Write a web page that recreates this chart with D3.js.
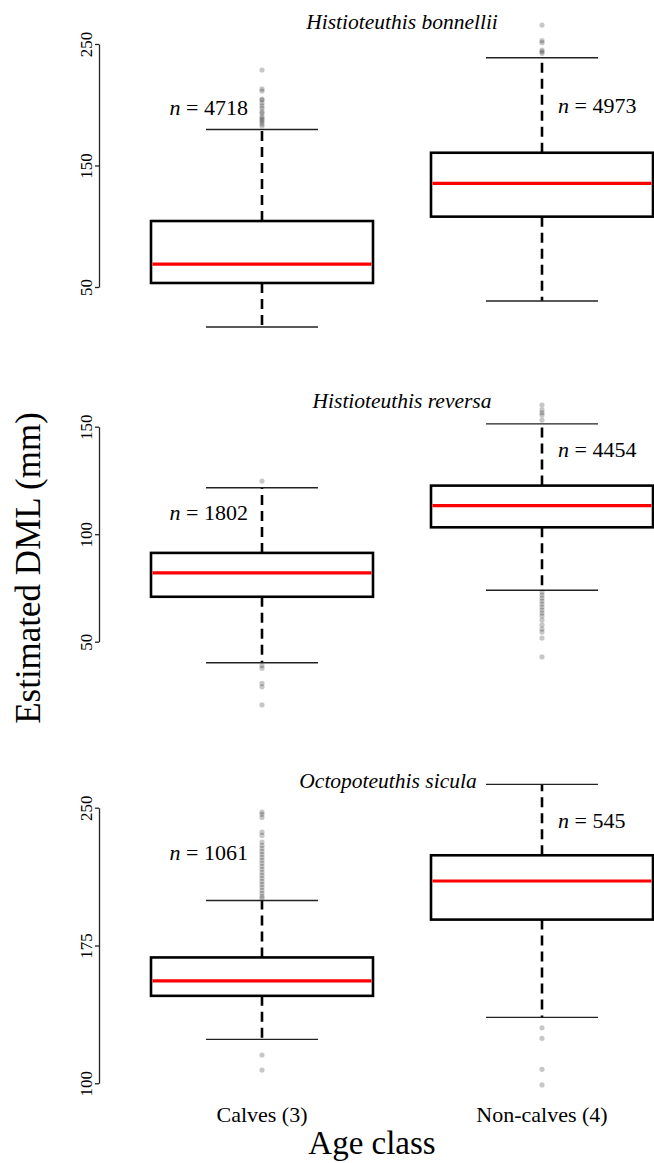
<!DOCTYPE html>
<html>
<head>
<meta charset="utf-8">
<script src="https://cdn.jsdelivr.net/npm/d3@7"></script>
<style>
  body { margin: 0; background: #fff; }
  text { font-family: "Liberation Serif", "Times New Roman", serif; fill: #000; }
</style>
</head>
<body>
<svg id="chart" width="654" height="1163"></svg>
<script>
"use strict";

// ---- data ----
var ageClasses = ["Calves (3)", "Non-calves (4)"];
var species = ["Histioteuthis bonnellii", "Histioteuthis reversa", "Octopoteuthis sicula"];
var yTicks = [[50, 150, 250], [50, 100, 150], [100, 175, 250]];
var sampleSizes = [[4718, 4973], [1802, 4454], [1061, 545]];

// [lower whisker, q1, median, q3, upper whisker] for calves / non-calves
var bonnelliiStats = [[17.1, 53.3, 68.9, 104.3, 179.6], [38.5, 107.9, 135.3, 160.5, 238.7]];
var reversaStats = [[40.2, 70.9, 82.0, 91.3, 121.6], [73.9, 103.2, 113.3, 122.6, 151.3]];
var siculaStats = [[123.9, 147.6, 155.8, 168.5, 199.5], [135.9, 189.1, 210.1, 224.1, 262.7]];

var bonnelliiOutliers = [
  [228.6, 213, 211.3, 204.7, 203.9, 201.4, 199, 197.1, 194.3, 193, 190.2, 188.8, 187.4, 186, 184.2, 182.5],
  [265.6, 252.7, 251.1, 245, 243.7, 242.3]
];
var reversaOutliers = [
  [124.7, 38.9, 37.7, 30.6, 29, 20.6],
  [160.1, 157.8, 156.5, 155.4, 153.1, 73.1, 71.7, 70.3, 68.9, 67.5, 66.1, 64.7, 63.3, 62, 60.1, 57.8, 55.9, 54.5, 51.7, 42.9]
];
var siculaOutliers = [
  [247.6, 246.4, 244.7, 236.7, 234.9, 231.3, 229.5, 227.9, 226.2, 224.6, 223, 221.4, 219.7, 218.1, 216.5,
   214.8, 213.2, 211.6, 209.9, 208.3, 206.7, 205, 203.4, 201.8, 200.7, 115.4, 107.2],
  [130.2, 124.5, 107.6, 99.1]
];

var panelStats = [bonnelliiStats, reversaStats, siculaStats];
var panelOutliers = [bonnelliiOutliers, reversaOutliers, siculaOutliers];

// ---- layout ----
var axisX = 99;
var panelRanges = [[287, 44], [641.7, 426.7], [1083.3, 807.7]];
var titleX = [402, 402, 388];
var titleY = [29, 408, 788];
var nLabelY = [[115, 113], [520, 457], [860, 828]];
var boxHalf = 111, capHalf = 56;

var svg = d3.select("#chart");

var x = d3.scalePoint()
  .domain(ageClasses)
  .range([262, 542]);

species.forEach(function(name, p) {
  var ticks = yTicks[p];
  var y = d3.scaleLinear()
    .domain([ticks[0], ticks[ticks.length - 1]])
    .range(panelRanges[p]);

  var g = svg.append("g").attr("class", "panel");

  // y axis
  var axis = g.append("g")
    .attr("transform", "translate(" + axisX + ",0)")
    .call(d3.axisLeft(y).tickValues(ticks).tickSize(4).tickSizeOuter(0).tickFormat(d3.format("d")));
  axis.select(".domain").attr("stroke", "#222").attr("stroke-width", 1.3);
  axis.selectAll(".tick line").attr("stroke", "#222").attr("stroke-width", 1.3);
  axis.selectAll(".tick text")
    .attr("transform", "rotate(-90)")
    .attr("x", 0)
    .attr("y", -7)
    .attr("dy", 0)
    .attr("text-anchor", "middle")
    .style("font-family", "'Liberation Serif', 'Times New Roman', serif")
    .style("font-size", "17px");

  ageClasses.forEach(function(cls, i) {
    var s = panelStats[p][i];
    var cx = x(cls);

    // whiskers (dashed)
    g.append("line")
      .attr("x1", cx).attr("x2", cx)
      .attr("y1", y(s[3])).attr("y2", y(s[4]))
      .attr("stroke", "#000").attr("stroke-width", 2.6)
      .attr("stroke-dasharray", "10,6");
    g.append("line")
      .attr("x1", cx).attr("x2", cx)
      .attr("y1", y(s[1])).attr("y2", y(s[0]))
      .attr("stroke", "#000").attr("stroke-width", 2.6)
      .attr("stroke-dasharray", "10,6");

    // caps
    [s[0], s[4]].forEach(function(v) {
      g.append("line")
        .attr("x1", cx - capHalf).attr("x2", cx + capHalf)
        .attr("y1", y(v)).attr("y2", y(v))
        .attr("stroke", "#222").attr("stroke-width", 1.4);
    });

    // box
    g.append("rect")
      .attr("x", cx - boxHalf)
      .attr("y", y(s[3]))
      .attr("width", boxHalf * 2)
      .attr("height", y(s[1]) - y(s[3]))
      .attr("fill", "#fff")
      .attr("stroke", "#000")
      .attr("stroke-width", 2.6);

    // median
    g.append("line")
      .attr("x1", cx - boxHalf + 1.5).attr("x2", cx + boxHalf - 1.5)
      .attr("y1", y(s[2])).attr("y2", y(s[2]))
      .attr("stroke", "#ff0000").attr("stroke-width", 3.2);

    // outliers
    g.selectAll(null)
      .data(panelOutliers[p][i])
      .enter().append("circle")
      .attr("cx", cx)
      .attr("cy", function(d) { return y(d); })
      .attr("r", 2.6)
      .attr("fill", "#000")
      .attr("fill-opacity", 0.22);

    // sample size labels
    var lab = g.append("text")
      .attr("x", i === 0 ? cx - 14 : cx + 16)
      .attr("y", nLabelY[p][i])
      .attr("text-anchor", i === 0 ? "end" : "start")
      .style("font-size", "22px");
    lab.append("tspan").style("font-style", "italic").text("n");
    lab.append("tspan").text(" = " + sampleSizes[p][i]);
  });

  g.append("text")
    .attr("x", titleX[p])
    .attr("y", titleY[p])
    .attr("text-anchor", "middle")
    .style("font-style", "italic")
    .style("font-size", "21.5px")
    .text(name);
});

// x category labels
svg.selectAll(".xlab")
  .data(ageClasses)
  .enter().append("text")
  .attr("class", "xlab")
  .attr("x", function(d) { return x(d); })
  .attr("y", 1122)
  .attr("text-anchor", "middle")
  .style("font-size", "22px")
  .text(function(d) { return d; });

svg.append("text")
  .attr("x", 372)
  .attr("y", 1154)
  .attr("text-anchor", "middle")
  .style("font-size", "33px")
  .text("Age class");

svg.append("text")
  .attr("transform", "translate(40,568) rotate(-90)")
  .attr("text-anchor", "middle")
  .style("font-size", "35px")
  .text("Estimated DML (mm)");
</script>
</body>
</html>
